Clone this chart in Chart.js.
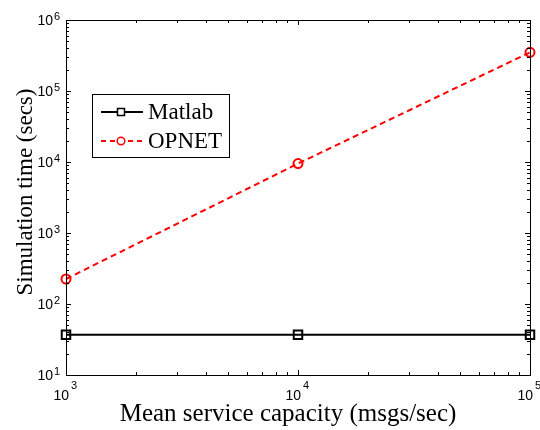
<!DOCTYPE html>
<html>
<head>
<meta charset="utf-8">
<script src="https://cdn.jsdelivr.net/npm/chart.js@4/dist/chart.umd.min.js"></script>
<style>
  html, body { margin: 0; padding: 0; background: #fff; }
  #wrap { width: 540px; height: 430px; }
</style>
</head>
<body>
<div id="wrap"><canvas id="chart" width="540" height="430"></canvas></div>
<script>
// data
const capacity = [1000, 10000, 100000];
const matlabTime = [37, 37, 37];
const opnetTime = [225, 9500, 350000];
const xDecades = [3, 4, 5];
const yDecades = [1, 2, 3, 4, 5, 6];

const serif = "'Liberation Serif', 'Times New Roman', serif";
const sans = "'Liberation Sans Narrow', 'Liberation Sans', Arial, sans-serif";

// MATLAB style frame, inward ticks, 10^n labels, axis titles and legend
const matlabAxes = {
  id: "matlabAxes",
  afterDraw(chart) {
    const { ctx, chartArea: a, scales } = chart;
    const xs = scales.x, ys = scales.y;
    ctx.save();
    ctx.strokeStyle = "#000";
    ctx.lineWidth = 1;
    ctx.strokeRect(a.left + 0.5, a.top + 0.5, a.right - a.left, a.bottom - a.top);

    const tick = (x1, y1, x2, y2) => {
      ctx.beginPath();
      ctx.moveTo(x1, y1);
      ctx.lineTo(x2, y2);
      ctx.stroke();
    };
    // x ticks
    for (let d = 3; d <= 5; d++) {
      for (let m = 1; m <= 9; m++) {
        const v = m * Math.pow(10, d);
        if (v > 100000) break;
        const px = Math.round(xs.getPixelForValue(v)) + 0.5;
        const len = m === 1 ? 5 : 3;
        tick(px, a.bottom, px, a.bottom - len);
        tick(px, a.top, px, a.top + len);
      }
    }
    // y ticks
    for (let d = 1; d <= 6; d++) {
      for (let m = 1; m <= 9; m++) {
        const v = m * Math.pow(10, d);
        if (v > 1000000) break;
        const py = Math.round(ys.getPixelForValue(v)) + 0.5;
        const len = m === 1 ? 5 : 3;
        tick(a.left, py, a.left + len, py);
        tick(a.right, py, a.right - len, py);
      }
    }

    // tick labels
    ctx.fillStyle = "#000";
    ctx.textBaseline = "alphabetic";
    xDecades.forEach((d) => {
      const px = xs.getPixelForValue(Math.pow(10, d));
      ctx.font = "14px " + sans;
      ctx.textAlign = "right";
      ctx.fillText("10", px + 3, a.bottom + 25);
      ctx.font = "11px " + sans;
      ctx.textAlign = "left";
      ctx.fillText(String(d), px + 5, a.bottom + 14);
    });
    yDecades.forEach((d) => {
      const py = ys.getPixelForValue(Math.pow(10, d));
      ctx.font = "11px " + sans;
      ctx.textAlign = "left";
      ctx.fillText(String(d), a.left - 12, py);
      ctx.font = "14px " + sans;
      ctx.textAlign = "right";
      ctx.fillText("10", a.left - 13, py + 5);
    });

    // axis titles
    ctx.font = "25px " + serif;
    ctx.textAlign = "center";
    ctx.fillText("Mean service capacity (msgs/sec)", 288, 421);
    ctx.save();
    ctx.font = "23px " + serif;
    ctx.translate(32, 192);
    ctx.rotate(-Math.PI / 2);
    ctx.fillText("Simulation time (secs)", 0, 0);
    ctx.restore();

    // legend
    const lx = 92, ly = 94, lw = 137, lh = 63;
    ctx.fillStyle = "#fff";
    ctx.fillRect(lx, ly, lw, lh);
    ctx.strokeStyle = "#000";
    ctx.lineWidth = 1;
    ctx.strokeRect(lx + 0.5, ly + 0.5, lw, lh);
    const rows = [
      { label: "Matlab", y: 112, color: "#000", dash: [], shape: "rect" },
      { label: "OPNET", y: 141, color: "#f00", dash: [5, 4], shape: "circle" }
    ];
    rows.forEach((r) => {
      ctx.strokeStyle = r.color;
      ctx.lineWidth = 2;
      ctx.setLineDash(r.dash);
      tick(lx + 9, r.y, lx + 51, r.y);
      ctx.setLineDash([]);
      ctx.lineWidth = 1.5;
      ctx.fillStyle = "#fff";
      if (r.shape === "rect") {
        ctx.fillRect(lx + 25.5, r.y - 3.5, 7, 7);
        ctx.strokeRect(lx + 25.5, r.y - 3.5, 7, 7);
      } else {
        ctx.beginPath();
        ctx.arc(lx + 29, r.y, 3.8, 0, Math.PI * 2);
        ctx.fill();
        ctx.stroke();
      }
      ctx.fillStyle = "#000";
      ctx.font = "23px " + serif;
      ctx.textAlign = "left";
      ctx.fillText(r.label, lx + 56, r.y + 7);
    });
    ctx.restore();
  }
};

new Chart(document.getElementById("chart"), {
  type: "line",
  data: {
    datasets: [
      {
        label: "Matlab",
        data: capacity.map((c, i) => ({ x: c, y: matlabTime[i] })),
        borderColor: "#000",
        borderWidth: 2,
        pointStyle: "rect",
        pointRadius: 6,
        pointBorderWidth: 2,
        pointBackgroundColor: "rgba(255,255,255,0)",
        pointBorderColor: "#000",
        clip: false
      },
      {
        label: "OPNET",
        data: capacity.map((c, i) => ({ x: c, y: opnetTime[i] })),
        borderColor: "#f00",
        borderWidth: 2,
        borderDash: [6, 4],
        pointStyle: "circle",
        pointRadius: 4.5,
        pointBorderWidth: 2,
        pointBackgroundColor: "rgba(255,255,255,0)",
        pointBorderColor: "#f00",
        clip: false
      }
    ]
  },
  options: {
    responsive: false,
    animation: false,
    events: [],
    layout: { padding: { left: 0, top: 20, right: 10, bottom: 0 } },
    plugins: { legend: { display: false }, tooltip: { enabled: false } },
    scales: {
      x: {
        type: "logarithmic",
        min: 1000,
        max: 100000,
        grid: { display: false },
        border: { display: false },
        ticks: { display: false },
        afterFit: (s) => { s.height = 55; }
      },
      y: {
        type: "logarithmic",
        min: 10,
        max: 1000000,
        grid: { display: false },
        border: { display: false },
        ticks: { display: false },
        afterFit: (s) => { s.width = 66; }
      }
    }
  },
  plugins: [matlabAxes]
});
</script>
</body>
</html>
